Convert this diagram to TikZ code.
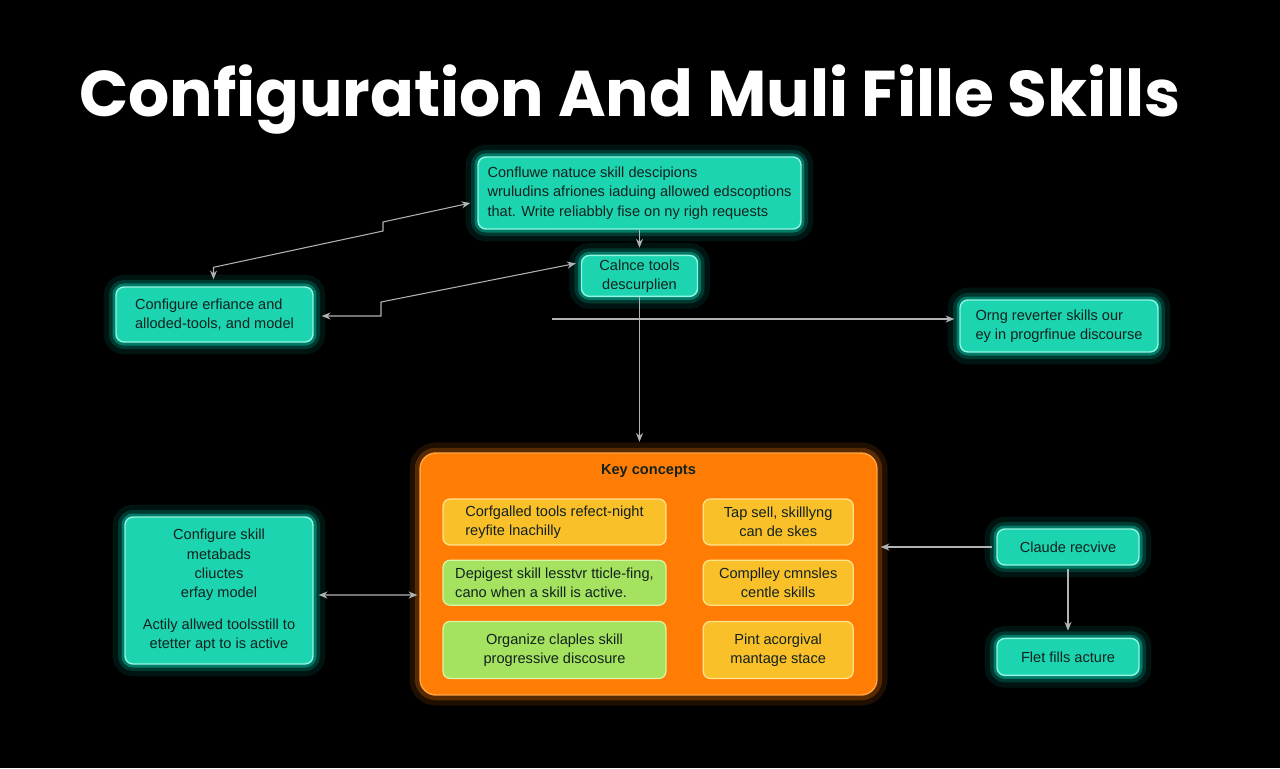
\documentclass[tikz,border=0pt]{standalone}
\usepackage{fontspec}
\setmainfont{Liberation Sans}
\newfontfamily\titlefont{Poppins}
\usetikzlibrary{arrows.meta, positioning, calc}

\definecolor{tealfill}{RGB}{28,212,176}
\definecolor{tealedge}{RGB}{150,245,225}
\definecolor{tealglow}{RGB}{0,205,175}
\definecolor{orangefill}{RGB}{255,125,5}
\definecolor{orangeedge}{RGB}{255,165,70}
\definecolor{yellowfill}{RGB}{250,192,42}
\definecolor{yellowedge}{RGB}{255,228,140}
\definecolor{greenfill}{RGB}{165,226,96}
\definecolor{greenedge}{RGB}{215,247,165}
\definecolor{inkdark}{RGB}{18,34,30}
\definecolor{linkgray}{RGB}{178,178,178}

\begin{document}
\begin{tikzpicture}[
        x=0.02cm, y=-0.02cm,
        >={Stealth[length=5pt,width=4pt]},
        glowbox/.style={
            rectangle,
            rounded corners=4.5pt,
            align=center,
            inner sep=0pt,
            font=\fontsize{8.3}{11}\selectfont,
            text=inkdark,
            line width=0.8pt
        },
        tealbox/.style={
            glowbox,
            fill=tealfill,
            draw=tealedge,
            preaction={draw=tealglow, line width=14pt, opacity=0.10},
            preaction={draw=tealglow, line width=8pt, opacity=0.20},
            preaction={draw=tealglow, line width=4pt, opacity=0.45}
        },
        conceptbox/.style={
            glowbox,
            rounded corners=4pt,
            minimum width=4.46cm,
            line width=0.7pt
        },
        link/.style={
            draw=linkgray,
            line width=0.6pt
        }
    ]
        % background
        \fill[black] (0,0) rectangle (1280,768);

        \node[font=\titlefont\bfseries\fontsize{36.8}{44}\selectfont, text=white] (title) at (630,99) {Configuration And Muli Fille Skills};

        % upper part
        \node[tealbox, align=left, minimum width=6.46cm, minimum height=1.44cm] (descr) at (639.5,193) {
            Confluwe natuce skill descipions\\
            wruludins afriones iaduing allowed edscoptions\\
            that. Write reliabbly fise on ny righ requests
        };
        \node[tealbox, minimum width=2.32cm, minimum height=0.82cm, below=0.5cm of descr] (tools) {
            Calnce tools\\
            descurplien
        };
        \node[tealbox, align=left, minimum width=3.94cm, minimum height=1.1cm] (cfgleft) at (214.5,314.5) {
            Configure erfiance and\\
            alloded-tools, and model
        };
        \node[tealbox, align=left, minimum width=3.96cm, minimum height=1.04cm] (orng) at (1059,326) {
            Orng reverter skills our\\
            ey in progrfinue discourse
        };

        % key concepts
        \node[glowbox, rounded corners=9pt, fill=orangefill, draw=orangeedge, minimum width=9.14cm, minimum height=4.84cm,
            preaction={draw=orangefill, line width=12pt, opacity=0.12},
            preaction={draw=orangefill, line width=6pt, opacity=0.25}] (key) at (648.5,574) {};
        \node[font=\bfseries\fontsize{8.3}{10}\selectfont, text=inkdark, inner sep=0pt, below=0.24cm of key.north] (keytitle) {Key concepts};

        \node[conceptbox, align=left, fill=yellowfill, draw=yellowedge, minimum height=0.92cm] (conf) at (554.5,522) {
            Corfgalled tools refect-night\\
            reyfite lnachilly
        };
        \node[conceptbox, minimum width=3cm, fill=yellowfill, draw=yellowedge, minimum height=0.92cm, right=0.72cm of conf] (tap) {
            Tap sell, skilllyng\\
            can de skes
        };
        \node[conceptbox, align=left, fill=greenfill, draw=greenedge, minimum height=0.9cm, below=0.28cm of conf] (depig) {
            Depigest skill lesstvr tticle-fing,\\
            cano when a skill is active.
        };
        \node[conceptbox, minimum width=3cm, fill=yellowfill, draw=yellowedge, minimum height=0.9cm, right=0.72cm of depig] (compl) {
            Complley cmnsles\\
            centle skills
        };
        \node[conceptbox, fill=greenfill, draw=greenedge, minimum height=1.14cm, below=0.3cm of depig] (organ) {
            Organize claples skill\\
            progressive discosure
        };
        \node[conceptbox, minimum width=3cm, fill=yellowfill, draw=yellowedge, minimum height=1.14cm, right=0.72cm of organ] (pint) {
            Pint acorgival\\
            mantage stace
        };

        % left and right of key concepts
        \node[tealbox, minimum width=3.76cm, minimum height=2.94cm] (meta) at (219,590.5) {
            Configure skill\\
            metabads\\
            cliuctes\\
            erfay model\\[7pt]
            Actily allwed toolsstill to\\
            etetter apt to is active
        };
        \node[tealbox, minimum width=2.84cm, minimum height=0.72cm] (claude) at (1068,547) {Claude recvive};
        \node[tealbox, minimum width=2.84cm, minimum height=0.74cm, below=1.44cm of claude] (flet) {Flet fills acture};

        % connectors
        \coordinate (hstart) at (552,319);
        \draw[link, <->] ($(cfgleft.north)+(-1,-7)$) -- ++(0,-12) -- (383,231) -- (383,222) -- ($(descr.west)+(-7,10)$);
        \draw[link, <->] ($(cfgleft.east)+(8,1.5)$) -- (381,316) -- (381,302) -- ($(tools.west)+(-5,-12.5)$);
        \draw[link, ->, shorten >=4pt] (descr.south) -- (tools.north);
        \draw[link, ->, shorten >=6pt] (tools.south) -- (tools.south |- key.north);
        \draw[link, ->] (hstart) -- ($(orng.west)+(-5,-7)$);
        \draw[link, <->] ($(meta.east)+(5,4.5)$) -- ($(key.west)+(-2,21)$);
        \draw[link, ->] ($(claude.west)+(-4,0)$) -- ($(key.east)+(3,-27)$);
        \draw[link, ->, shorten <=2pt, shorten >=4pt] (claude.south) -- (flet.north);
    \end{tikzpicture}
\end{document}
